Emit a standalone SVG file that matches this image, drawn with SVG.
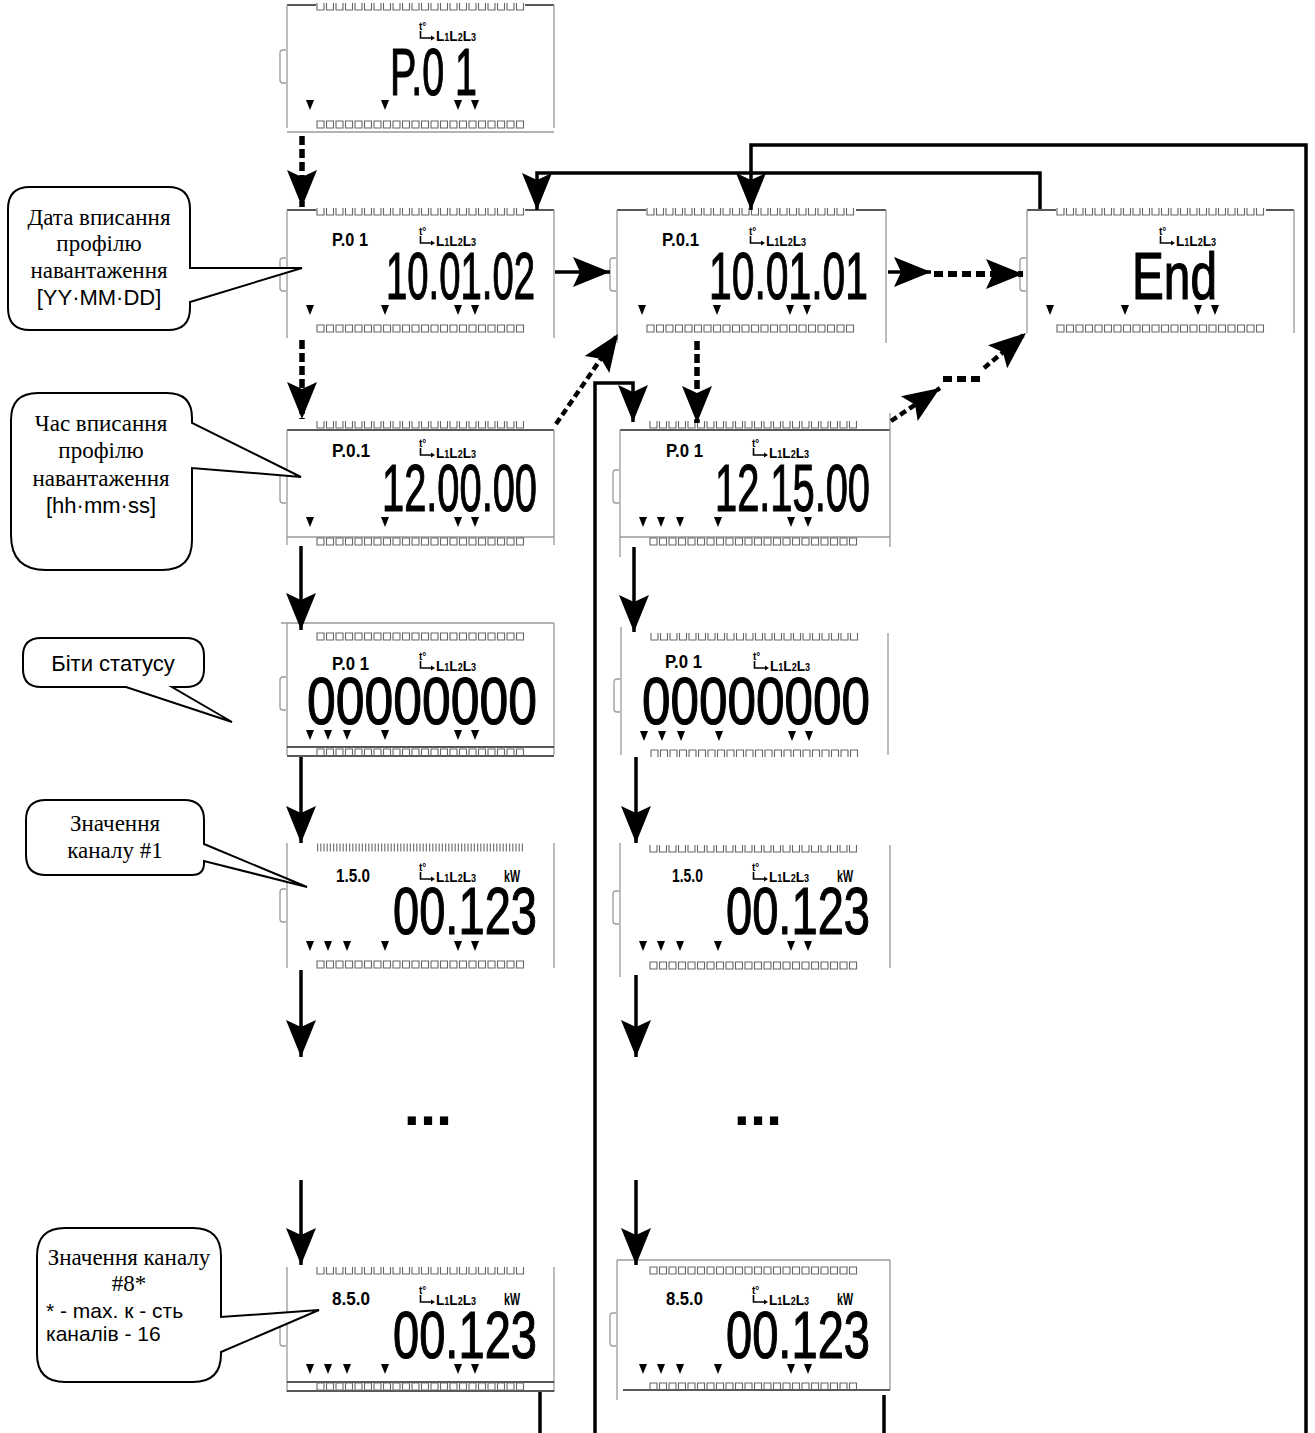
<svg xmlns="http://www.w3.org/2000/svg" width="1315" height="1433" viewBox="0 0 1315 1433">
<style>
.cap{font-family:"Liberation Serif","Times New Roman",serif;font-size:23px;text-anchor:middle;fill:#000}
.capa{font-family:"Liberation Sans",Arial,sans-serif;font-size:22px;fill:#000}
.capb{font-family:"Liberation Sans",Arial,sans-serif;font-size:21px;fill:#000}
.big{font-family:"Liberation Sans",Arial,sans-serif;font-weight:400;font-size:66px;fill:#000;stroke:#000;stroke-width:1.2}
.sm{font-family:"Liberation Sans",Arial,sans-serif;font-weight:700;font-size:19px;fill:#000}
.kw{font-family:"Liberation Sans",Arial,sans-serif;font-weight:700;font-size:17px;fill:#000}
.ict{font-family:"Liberation Sans",Arial,sans-serif;font-weight:700;fill:#000}
.edge{stroke:#9a9a9a;stroke-width:1.3;fill:none}
.rim{stroke:#222;stroke-width:1.4;fill:none}
.strip{stroke:#666;stroke-width:1.1;fill:none}
.bars{stroke:#777;stroke-width:8;stroke-dasharray:1.2 2;fill:none}
.bubble{fill:#fff;stroke:#000;stroke-width:2}
.conn{stroke:#000;stroke-width:3.5;fill:none}
.dash{stroke:#000;stroke-width:5.5;fill:none;stroke-dasharray:9 4}
.dashd{stroke:#000;stroke-width:4.5;fill:none;stroke-dasharray:7 4}
.dots{stroke:#000;stroke-width:6;fill:none;stroke-dasharray:9 5}
.ell{font-family:"Liberation Sans",Arial,sans-serif;font-weight:700;font-size:58px;text-anchor:middle;fill:#000}
</style>
<defs>
<marker id="ah" viewBox="-40 -17 42 34" refX="0" refY="0" markerWidth="42" markerHeight="34" markerUnits="userSpaceOnUse" orient="auto">
<path d="M0,0 L-37,-15 L-30,0 L-37,15 Z" fill="#000"/>
</marker>
<path id="tri" d="M-4,0h8l-4,10z" fill="#000"/>
<g id="tri1"><use href="#tri" x="23"/><use href="#tri" x="98"/><use href="#tri" x="171"/><use href="#tri" x="188"/></g>
<g id="tri3"><use href="#tri" x="23"/><use href="#tri" x="41"/><use href="#tri" x="60"/><use href="#tri" x="98"/><use href="#tri" x="171"/><use href="#tri" x="188"/></g>
<path id="sU" class="strip" d="M0,0v7h7v-7m2.5,0v7h7v-7m2.5,0v7h7v-7m2.5,0v7h7v-7m2.5,0v7h7v-7m2.5,0v7h7v-7m2.5,0v7h7v-7m2.5,0v7h7v-7m2.5,0v7h7v-7m2.5,0v7h7v-7m2.5,0v7h7v-7m2.5,0v7h7v-7m2.5,0v7h7v-7m2.5,0v7h7v-7m2.5,0v7h7v-7m2.5,0v7h7v-7m2.5,0v7h7v-7m2.5,0v7h7v-7m2.5,0v7h7v-7m2.5,0v7h7v-7m2.5,0v7h7v-7m2.5,0v7h7v-7"/>
<path id="sB" class="strip" d="M0,0h7v7h-7zm9.5,0h7v7h-7zm9.5,0h7v7h-7zm9.5,0h7v7h-7zm9.5,0h7v7h-7zm9.5,0h7v7h-7zm9.5,0h7v7h-7zm9.5,0h7v7h-7zm9.5,0h7v7h-7zm9.5,0h7v7h-7zm9.5,0h7v7h-7zm9.5,0h7v7h-7zm9.5,0h7v7h-7zm9.5,0h7v7h-7zm9.5,0h7v7h-7zm9.5,0h7v7h-7zm9.5,0h7v7h-7zm9.5,0h7v7h-7zm9.5,0h7v7h-7zm9.5,0h7v7h-7zm9.5,0h7v7h-7zm9.5,0h7v7h-7z"/>
<path id="sN" class="strip" d="M0,7v-7h7v7m2.5,0v-7h7v7m2.5,0v-7h7v7m2.5,0v-7h7v7m2.5,0v-7h7v7m2.5,0v-7h7v7m2.5,0v-7h7v7m2.5,0v-7h7v7m2.5,0v-7h7v7m2.5,0v-7h7v7m2.5,0v-7h7v7m2.5,0v-7h7v7m2.5,0v-7h7v7m2.5,0v-7h7v7m2.5,0v-7h7v7m2.5,0v-7h7v7m2.5,0v-7h7v7m2.5,0v-7h7v7m2.5,0v-7h7v7m2.5,0v-7h7v7m2.5,0v-7h7v7m2.5,0v-7h7v7"/>
<path id="tab" class="edge" d="M6,0h-3q-3,0-3,3v27q0,3 3,3h3"/>
<g id="icons">
<text class="ict" x="0" y="9" font-size="10">t°</text>
<path d="M1.5,10v7h11" stroke="#000" stroke-width="1.6" fill="none"/>
<path d="M12,14.5l4,2.5-4,2.5z" fill="#000"/>
<text class="ict" x="17" y="20" font-size="15" textLength="40" lengthAdjust="spacingAndGlyphs">L<tspan font-size="10">1</tspan>L<tspan font-size="10">2</tspan>L<tspan font-size="10">3</tspan></text>
</g>
</defs>
<rect width="1315" height="1433" fill="#fff"/>

<g id="lcd-p01">
<path class="rim" d="M287,5H316M525,5H554"/>
<path class="edge" d="M287,5V128M554,5V128M287,132H554"/>
<use href="#sU" x="317" y="3"/><use href="#sB" x="317" y="121"/>
<use href="#tab" x="280" y="50"/>
<use href="#icons" x="419" y="21"/>
<text class="big" x="390" y="95" textLength="87" lengthAdjust="spacingAndGlyphs">P.0 1</text>
<use href="#tri1" x="287" y="100"/>
</g>

<g id="lcd-date1">
<path class="rim" d="M287,210H316M525,210H554"/>
<path class="edge" d="M287,210V338M554,210V338"/>
<use href="#sU" x="317" y="208"/><use href="#sB" x="317" y="325"/>
<use href="#tab" x="280" y="258"/>
<text class="sm" x="332" y="246" textLength="36" lengthAdjust="spacingAndGlyphs">P.0 1</text>
<use href="#icons" x="419" y="226"/>
<text class="big" x="386" y="299" textLength="149" lengthAdjust="spacingAndGlyphs">10.01.02</text>
<use href="#tri1" x="287" y="305"/>
</g>

<g id="lcd-date2">
<path class="rim" d="M617,210H646M856,210H886"/>
<path class="edge" d="M617,210V343M886,210V343"/>
<use href="#sU" x="647" y="208"/><use href="#sB" x="647" y="325"/>
<use href="#tab" x="610" y="258"/>
<text class="sm" x="662" y="246" textLength="37" lengthAdjust="spacingAndGlyphs">P.0.1</text>
<use href="#icons" x="749" y="226"/>
<text class="big" x="709" y="299" textLength="159" lengthAdjust="spacingAndGlyphs">10.01.01</text>
<use href="#tri1" x="619" y="305"/>
</g>

<g id="lcd-end">
<path class="rim" d="M1027,210H1056M1266,210H1294"/>
<path class="edge" d="M1027,210V333M1294,210V333"/>
<use href="#sU" x="1057" y="208"/><use href="#sB" x="1057" y="325"/>
<use href="#tab" x="1020" y="258"/>
<use href="#icons" x="1159" y="226"/>
<text class="big" x="1132" y="299" textLength="85" lengthAdjust="spacingAndGlyphs">End</text>
<use href="#tri1" x="1027" y="305"/>
</g>

<g id="lcd-time1">
<path class="rim" d="M287,430H554"/>
<path class="edge" d="M287,430V545M554,430V545M287,537H554"/>
<use href="#sU" x="317" y="421"/><use href="#sB" x="317" y="538"/>
<use href="#tab" x="280" y="470"/>
<text class="sm" x="332" y="457" textLength="38" lengthAdjust="spacingAndGlyphs">P.0.1</text>
<use href="#icons" x="419" y="438"/>
<text class="big" x="382" y="511" textLength="155" lengthAdjust="spacingAndGlyphs">12.00.00</text>
<use href="#tri1" x="287" y="517"/>
</g>

<g id="lcd-time2">
<path class="rim" d="M620,430H890"/>
<path class="edge" d="M620,430V557M890,413V547M620,537H890"/>
<use href="#sU" x="650" y="421"/><use href="#sB" x="650" y="538"/>
<use href="#tab" x="613" y="470"/>
<text class="sm" x="666" y="457" textLength="37" lengthAdjust="spacingAndGlyphs">P.0 1</text>
<use href="#icons" x="752" y="438"/>
<text class="big" x="715" y="511" textLength="155" lengthAdjust="spacingAndGlyphs">12.15.00</text>
<use href="#tri3" x="620" y="517"/>
</g>

<g id="lcd-status1">
<path class="edge" d="M281,623H554M287,623V755M554,623V755"/>
<path class="rim" d="M287,747H554M287,756H554"/>
<use href="#sB" x="317" y="633"/><use href="#sN" x="317" y="749"/>
<use href="#tab" x="280" y="677"/>
<text class="sm" x="332" y="670" textLength="37" lengthAdjust="spacingAndGlyphs">P.0 1</text>
<use href="#icons" x="419" y="651"/>
<text class="big" x="307" y="724" textLength="230" lengthAdjust="spacingAndGlyphs">00000000</text>
<use href="#tri3" x="287" y="730"/>
</g>

<g id="lcd-status2">
<path class="edge" d="M621,627V755M888,633V755"/>
<use href="#sU" x="651" y="633"/><use href="#sN" x="651" y="750"/>
<use href="#tab" x="614" y="679"/>
<text class="sm" x="665" y="668" textLength="37" lengthAdjust="spacingAndGlyphs">P.0 1</text>
<use href="#icons" x="753" y="651"/>
<text class="big" x="642" y="724" textLength="228" lengthAdjust="spacingAndGlyphs">00000000</text>
<use href="#tri3" x="621" y="731"/>
</g>

<g id="lcd-ch1-1">
<path class="edge" d="M287,843V968M554,843V968"/>
<path class="bars" d="M317,847.5H525"/>
<use href="#sB" x="317" y="961"/>
<use href="#tab" x="280" y="889"/>
<text class="sm" x="336" y="882" textLength="34" lengthAdjust="spacingAndGlyphs">1.5.0</text>
<use href="#icons" x="419" y="862"/>
<text class="kw" x="504" y="882" textLength="16" lengthAdjust="spacingAndGlyphs">kW</text>
<text class="big" x="393" y="934" textLength="144" lengthAdjust="spacingAndGlyphs">00.123</text>
<use href="#tri3" x="287" y="941"/>
</g>

<g id="lcd-ch1-2">
<path class="edge" d="M620,843V977M890,845V968"/>
<use href="#sU" x="650" y="845"/><use href="#sB" x="650" y="962"/>
<use href="#tab" x="613" y="891"/>
<text class="sm" x="672" y="882" textLength="31" lengthAdjust="spacingAndGlyphs">1.5.0</text>
<use href="#icons" x="752" y="862"/>
<text class="kw" x="837" y="882" textLength="16" lengthAdjust="spacingAndGlyphs">kW</text>
<text class="big" x="726" y="934" textLength="144" lengthAdjust="spacingAndGlyphs">00.123</text>
<use href="#tri3" x="620" y="941"/>
</g>

<g id="lcd-ch8-1">
<path class="edge" d="M287,1267V1392M554,1267V1392"/>
<path class="rim" d="M287,1382H554M287,1391H554"/>
<use href="#sU" x="317" y="1267"/><use href="#sB" x="317" y="1383"/>
<use href="#tab" x="280" y="1313"/>
<text class="sm" x="332" y="1305" textLength="38" lengthAdjust="spacingAndGlyphs">8.5.0</text>
<use href="#icons" x="419" y="1285"/>
<text class="kw" x="504" y="1305" textLength="16" lengthAdjust="spacingAndGlyphs">kW</text>
<text class="big" x="393" y="1358" textLength="144" lengthAdjust="spacingAndGlyphs">00.123</text>
<use href="#tri3" x="287" y="1364"/>
</g>

<g id="lcd-ch8-2">
<path class="edge" d="M617,1260H890M617,1260V1400M890,1260V1390"/>
<path class="rim" d="M623,1390H890"/>
<use href="#sB" x="650" y="1267"/><use href="#sN" x="650" y="1383"/>
<use href="#tab" x="610" y="1313"/>
<text class="sm" x="666" y="1305" textLength="37" lengthAdjust="spacingAndGlyphs">8.5.0</text>
<use href="#icons" x="752" y="1285"/>
<text class="kw" x="837" y="1305" textLength="16" lengthAdjust="spacingAndGlyphs">kW</text>
<text class="big" x="726" y="1358" textLength="144" lengthAdjust="spacingAndGlyphs">00.123</text>
<use href="#tri3" x="620" y="1364"/>
</g>

<g id="ellipsis-1"><text class="ell" x="428" y="1125">...</text></g>
<g id="ellipsis-2"><text class="ell" x="758" y="1125">...</text></g>

<g id="callout-date">
<path class="bubble" d="M30,187H168Q190,187 190,209V268L302,268L190,302V308Q190,330 168,330H30Q8,330 8,308V209Q8,187 30,187Z"/>
<text class="cap" x="99" y="225">Дата вписання</text>
<text class="cap" x="99" y="251">профілю</text>
<text class="cap" x="99" y="278">навантаження</text>
<text class="capa" x="99" y="305" text-anchor="middle">[YY·MM·DD]</text>
</g>

<g id="callout-time">
<path class="bubble" d="M38,393H167Q192,393 192,418V423L301,477L192,468V540Q192,570 162,570H46Q11,570 11,535V420Q11,393 38,393Z"/>
<text class="cap" x="101" y="431">Час вписання</text>
<text class="cap" x="101" y="458">профілю</text>
<text class="cap" x="101" y="486">навантаження</text>
<text class="capa" x="101" y="513" text-anchor="middle">[hh·mm·ss]</text>
</g>

<g id="callout-status">
<path class="bubble" d="M41,638H186Q204,638 204,656V669Q204,687 186,687H172L232,722L126,687H41Q23,687 23,669V656Q23,638 41,638Z"/>
<text class="capa" x="113" y="671" text-anchor="middle">Біти статусу</text>
</g>

<g id="callout-ch1">
<path class="bubble" d="M46,800H184Q204,800 204,820V844L307,887L204,861V863Q204,875 192,875H46Q26,875 26,855V820Q26,800 46,800Z"/>
<text class="cap" x="115" y="831">Значення</text>
<text class="cap" x="115" y="858">каналу #1</text>
</g>

<g id="callout-ch8">
<path class="bubble" d="M65,1228H193Q221,1228 221,1256V1317L319,1310L221,1352V1354Q221,1382 193,1382H65Q37,1382 37,1354V1256Q37,1228 65,1228Z"/>
<text class="cap" x="129" y="1265">Значення каналу</text>
<text class="cap" x="129" y="1291">#8*</text>
<text class="capb" x="46" y="1318">* - max. к - сть</text>
<text class="capb" x="46" y="1341">каналів - 16</text>
</g>

<g id="connectors">
<path class="dash" d="M302,136V207" marker-end="url(#ah)"/>
<path class="dash" d="M302,340V419" marker-end="url(#ah)"/>
<path class="conn" d="M301,546V630" marker-end="url(#ah)"/>
<path class="conn" d="M301,757V843" marker-end="url(#ah)"/>
<path class="conn" d="M301,970V1057" marker-end="url(#ah)"/>
<path class="conn" d="M301,1180V1265" marker-end="url(#ah)"/>
<path class="dash" d="M697,341V423" marker-end="url(#ah)"/>
<path class="conn" d="M634,547V632" marker-end="url(#ah)"/>
<path class="conn" d="M636,757V843" marker-end="url(#ah)"/>
<path class="conn" d="M636,975V1057" marker-end="url(#ah)"/>
<path class="conn" d="M636,1180V1265" marker-end="url(#ah)"/>
<path class="conn" d="M555,272H610" marker-end="url(#ah)"/>
<path class="conn" d="M888,272H931" marker-end="url(#ah)"/>
<path class="dots" d="M934,274H1023" marker-end="url(#ah)"/>
<path class="dashd" d="M556,424L618,334" marker-end="url(#ah)"/>
<path class="dashd" d="M891,421L940,388" marker-end="url(#ah)"/>
<path class="dots" d="M943,379H983"/>
<path class="dashd" d="M984,368L1026,333" marker-end="url(#ah)"/>
<path class="conn" d="M595,1433V383H633V422" marker-end="url(#ah)"/>
<path class="conn" d="M540,1392V1433M884,1395V1433"/>
<path class="conn" d="M1306,1433V145H751V210" marker-end="url(#ah)"/>
<path class="conn" d="M1040,209V173H537V210" marker-end="url(#ah)"/>
</g>
</svg>
